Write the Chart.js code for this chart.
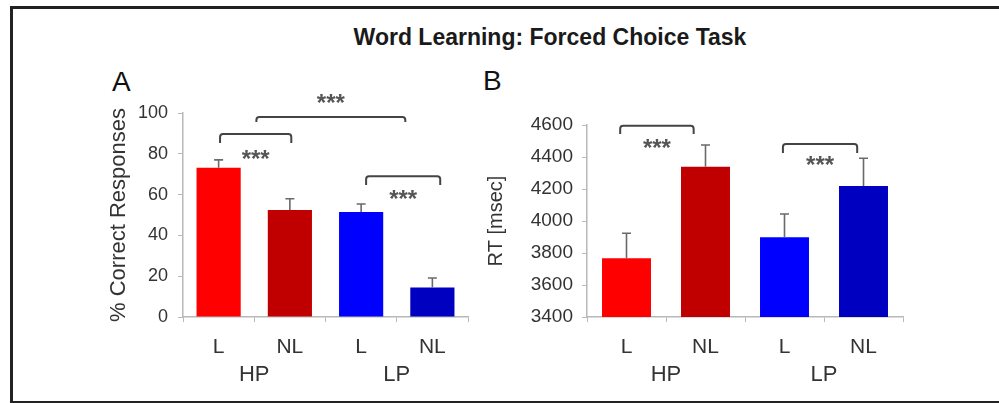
<!DOCTYPE html>
<html>
<head>
<meta charset="utf-8">
<script src="https://cdn.jsdelivr.net/npm/chart.js@4"></script>
<style>
  html, body { margin: 0; padding: 0; background: #fff; }
  body { width: 999px; height: 403px; position: relative; overflow: hidden; font-family: "Liberation Sans", Arial, sans-serif; }
  #frame { position: absolute; left: 10px; top: 6px; width: 1000px; height: 392px; border: 3px solid #222; border-right: none; }
  #title { position: absolute; left: 0; width: 1100px; top: 24px; text-align: center; font-weight: bold; font-size: 23px; color: #1a1a1a; }
  .panel { position: absolute; font-size: 28px; color: #111; }
  .box { position: absolute; }
</style>
</head>
<body>
<div id="frame"></div>
<div id="title">Word Learning: Forced Choice Task</div>
<div class="panel" style="left:112px; top:66px;">A</div>
<div class="panel" style="left:483px; top:65px;">B</div>
<div class="box" style="left:102px; top:60px; width:378px; height:335px;"><canvas id="accChart" width="378" height="335"></canvas></div>
<div class="box" style="left:480px; top:60px; width:434px; height:335px;"><canvas id="rtChart" width="434" height="335"></canvas></div>

<script>
// データ
const categories = ['L', 'NL', 'L', 'NL'];
const groups = ['HP', 'LP'];
const barColors = ['#ff0000', '#c00000', '#0000ff', '#0000c0'];

const accuracy = [73.2, 52.5, 51.5, 14.5];
const accuracyErr = [3.8, 5.5, 3.9, 4.6];
const accTicks = [0, 20, 40, 60, 80, 100];

const rt = [3767, 4339, 3898, 4219];
const rtErr = [156, 136, 146, 173];
const rtTicks = [3400, 3600, 3800, 4000, 4200, 4400, 4600];

// brackets: [from index, to index, top value, leg end value, stars value]
const accBrackets = [
    [0.02, 1.02, 89.7, 85.3, 80.4],
    [0.53, 2.62, 98.0, 95.6, 107.8],
    [2.07, 3.11, 69.0, 64.7, 60.8]
];
const rtBrackets = [
    [-0.08, 0.85, 4596, 4544, 4494],
    [1.98, 2.92, 4481, 4425, 4387]
];

const FONT = '"Liberation Sans", Arial, sans-serif';
const TEXT = '#333';
const AXIS = '#b8b8b8';

// エラーバー・ブラケット・グループラベル
const extras = {
    id: 'extras',
    afterDatasetsDraw(chart, args, opts) {
        const ctx = chart.ctx;
        const x = chart.scales.x, y = chart.scales.y;
        const meta = chart.getDatasetMeta(0);
        ctx.save();
        ctx.strokeStyle = '#6a6a6a';
        ctx.lineWidth = 1.6;
        meta.data.forEach((bar, i) => {
            const top = y.getPixelForValue(opts.values[i] + opts.errors[i]);
            ctx.beginPath();
            ctx.moveTo(bar.x, bar.y);
            ctx.lineTo(bar.x, top);
            ctx.moveTo(bar.x - 4.5, top);
            ctx.lineTo(bar.x + 4.5, top);
            ctx.stroke();
        });

        const posX = (f) => {
            const w = x.getPixelForValue(1) - x.getPixelForValue(0);
            return x.getPixelForValue(0) + w * f;
        };
        ctx.strokeStyle = '#444';
        ctx.lineWidth = 2;
        ctx.lineJoin = 'round';
        opts.brackets.forEach(b => {
            const x1 = posX(b[0]), x2 = posX(b[1]);
            const yt = y.getPixelForValue(b[2]), yl = y.getPixelForValue(b[3]);
            const r = 3;
            ctx.beginPath();
            ctx.moveTo(x1, yl);
            ctx.arcTo(x1, yt, x1 + r, yt, r);
            ctx.arcTo(x2, yt, x2, yt + r, r);
            ctx.lineTo(x2, yl);
            ctx.stroke();
            ctx.fillStyle = '#555';
            ctx.font = 'bold 24px ' + FONT;
            ctx.textAlign = 'center';
            ctx.textBaseline = 'alphabetic';
            ctx.fillText('***', (x1 + x2) / 2, y.getPixelForValue(b[4]) + 14);
        });

        ctx.fillStyle = TEXT;
        ctx.font = '22px ' + FONT;
        ctx.textAlign = 'center';
        ctx.textBaseline = 'middle';
        groups.forEach((g, k) => {
            const gx = (x.getPixelForValue(2 * k) + x.getPixelForValue(2 * k + 1)) / 2;
            ctx.fillText(g, gx, chart.chartArea.bottom + 58);
        });
        ctx.restore();
    }
};

function makeChart(id, values, errors, ticks, brackets, yTitle, titleSize, tickSize, yWidth, padTop, padRight, tickPad) {
    return new Chart(document.getElementById(id), {
        type: 'bar',
        data: {
            labels: categories,
            datasets: [{
                data: values,
                backgroundColor: barColors,
                borderWidth: 0,
                categoryPercentage: 1,
                barPercentage: 0.62
            }]
        },
        options: {
            responsive: false,
            animation: false,
            devicePixelRatio: 1,
            layout: { padding: { top: padTop, right: padRight, left: 0, bottom: 0 } },
            plugins: {
                legend: { display: false },
                tooltip: { enabled: false },
                extras: { values: values, errors: errors, brackets: brackets }
            },
            scales: {
                x: {
                    offset: true,
                    grid: { offset: true, drawOnChartArea: false, tickLength: 5, color: AXIS },
                    border: { color: AXIS, width: 1.5 },
                    ticks: { color: TEXT, font: { family: FONT, size: 21 }, padding: 13 },
                    afterFit: (s) => { s.height = 78; }
                },
                y: {
                    min: ticks[0],
                    max: ticks[ticks.length - 1],
                    afterBuildTicks: (s) => { s.ticks = ticks.map(v => ({ value: v })); },
                    grid: { drawOnChartArea: false, tickLength: 5, color: AXIS },
                    border: { color: AXIS, width: 1.5 },
                    ticks: { color: TEXT, font: { family: FONT, size: tickSize }, padding: tickPad, callback: (v) => String(v) },
                    title: { display: true, text: yTitle, color: TEXT, font: { family: FONT, size: titleSize }, padding: 4 },
                    afterFit: (s) => { s.width = yWidth; }
                }
            }
        },
        plugins: [extras]
    });
}

makeChart('accChart', accuracy, accuracyErr, accTicks, accBrackets, '% Correct Responses', 22, 18, 81, 53, 12, 10);
makeChart('rtChart', rt, rtErr, rtTicks, rtBrackets, 'RT [msec]', 20, 19, 107, 65, 11, 9);
</script>
</body>
</html>
